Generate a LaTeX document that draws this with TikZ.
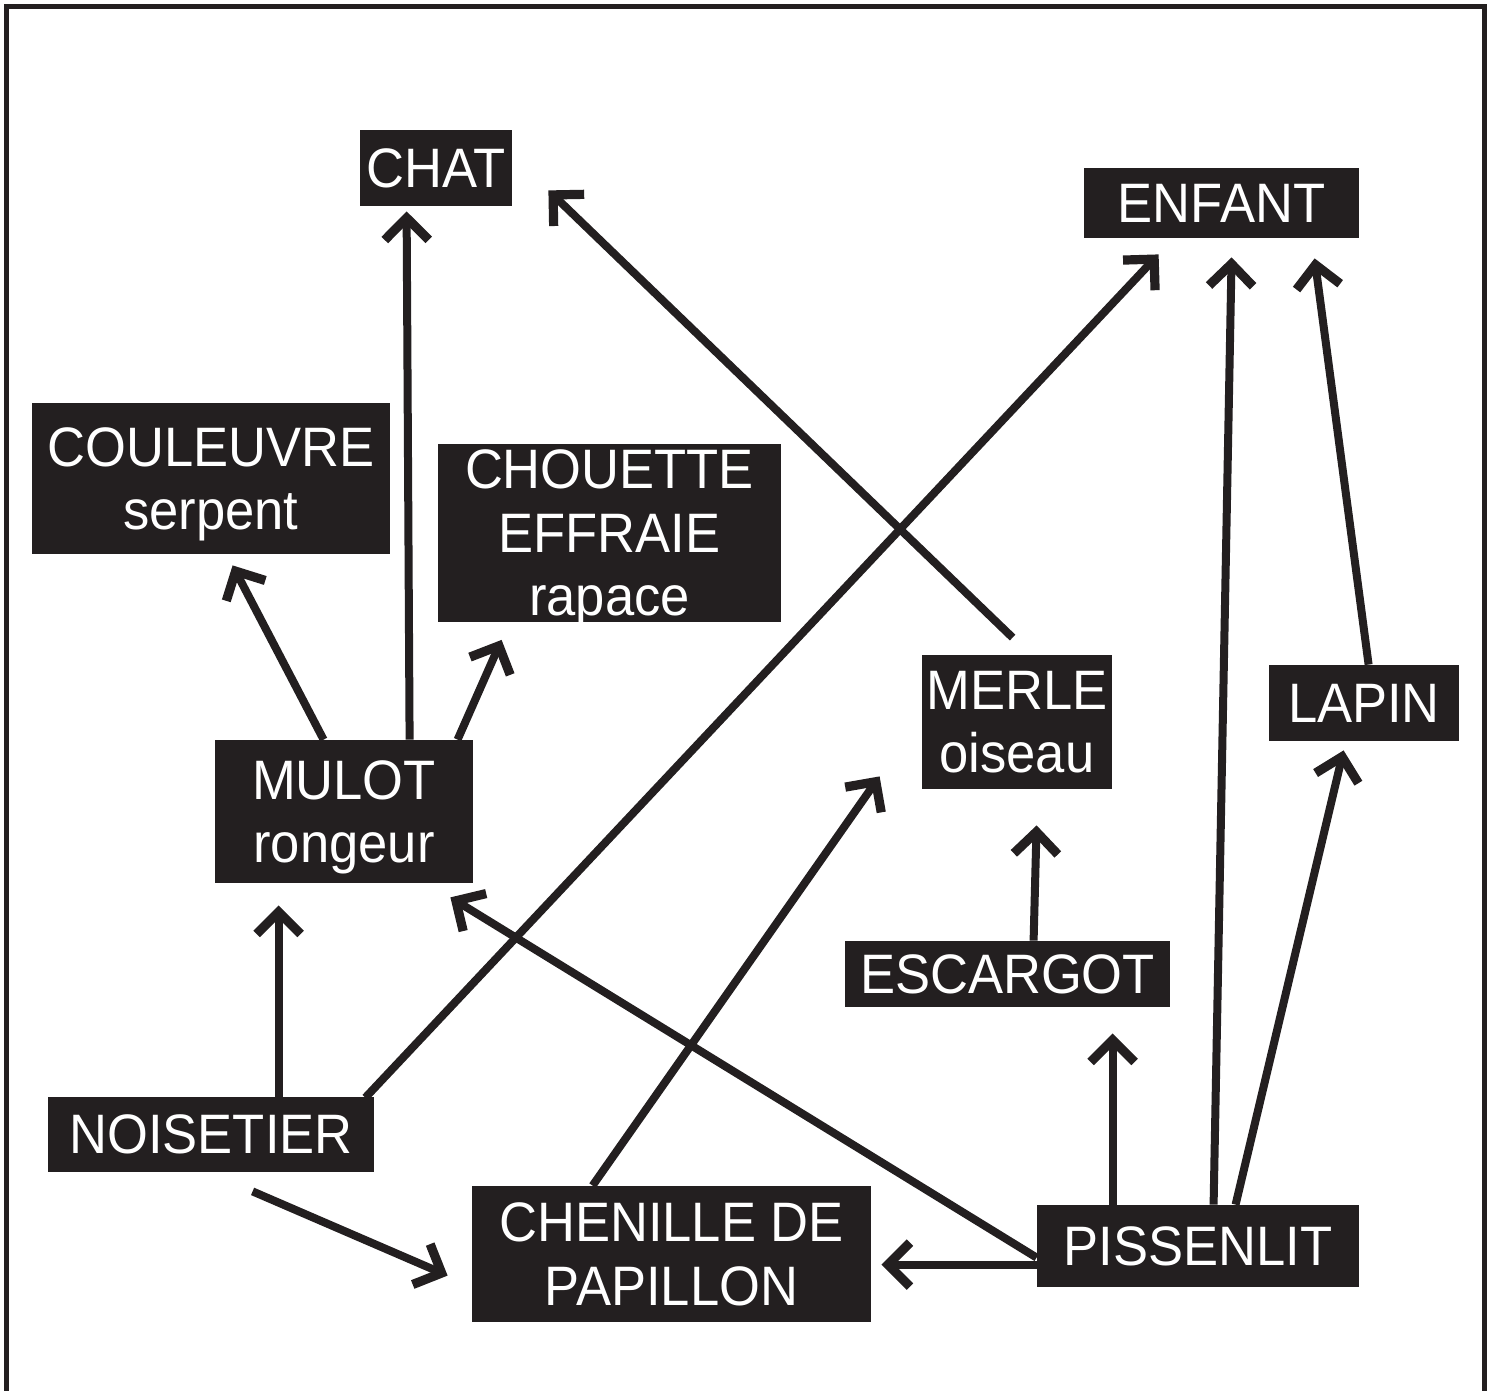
\documentclass[tikz,border=0pt]{standalone}
\usepackage{fontspec}
\setmainfont{Liberation Sans}[FakeStretch=0.945]
\usetikzlibrary{arrows.meta,calc}
\definecolor{ink}{HTML}{231F20}
\begin{document}
\begin{tikzpicture}[x=0.5pt,y=-0.5pt,
  box/.style={fill=ink, text=white, inner sep=0pt, align=center, text depth=0pt,
    font=\fontsize{27.8pt}{31.75pt}\selectfont},
  arr/.style={draw=ink, line width=4pt, -{Straight Barb[sharp,length=11pt,width=22pt,line width=4.6pt]}}]
\useasboundingbox (0,0) rectangle (1496,1391);
\draw[ink, line width=2.5pt] (6.5,1391) -- (6.5,6.5) -- (1484,6.5) -- (1484,1391);

\node[box, minimum width=76pt, minimum height=38pt] (chat) at (436,168) {CHAT};
\node[box, minimum width=137.5pt, minimum height=35pt] (enfant) at (1221.5,203) {ENFANT};
\node[box, minimum width=179pt, minimum height=75.5pt] (couleuvre) at (211,478.5) {COULEUVRE\\serpent};
\node[box, minimum width=171.5pt, minimum height=88.5pt] (chouette) at (609.5,533) {CHOUETTE\\EFFRAIE\\rapace};
\node[box, minimum width=95pt, minimum height=67pt] (merle) at (1017,722) {MERLE\\oiseau};
\node[box, minimum width=95pt, minimum height=38pt] (lapin) at (1364,703) {LAPIN};
\node[box, minimum width=129pt, minimum height=71.5pt] (mulot) at (344,811.5) {MULOT\\rongeur};
\node[box, minimum width=162.5pt, minimum height=33pt] (escargot) at (1007.5,974) {ESCARGOT};
\node[box, minimum width=163pt, minimum height=37.5pt] (noisetier) at (211,1134.5) {NOISETIER};
\node[box, minimum width=199.5pt, minimum height=68pt] (chenille) at (671.5,1254) {CHENILLE DE\\PAPILLON};
\node[box, minimum width=161pt, minimum height=41pt] (pissenlit) at (1198,1246) {PISSENLIT};

\draw[arr] ($(mulot.north west)+(195,0)$) -- ($(chat.south west)+(47,5)$);
\draw[arr] ($(merle.north west)+(91,-17)$) -- ($(chat.south east)+(36,-16)$);
\draw[arr] ($(noisetier.north east)+(-9,1)$) -- ($(enfant.south west)+(75,16)$);
\draw[arr] ($(pissenlit.north west)+(177,0)$) -- ($(enfant.south west)+(148,19)$);
\draw[arr] ($(lapin.north west)+(100,0)$) -- ($(enfant.south west)+(231,20)$);
\draw[arr] ($(mulot.north west)+(109,0)$) -- ($(couleuvre.south west)+(201,11)$);
\draw[arr] ($(mulot.north west)+(243,0)$) -- ($(chouette.south west)+(64,18)$);
\draw[arr] ($(chenille.north west)+(121,0)$) -- ($(merle.south west)+(-42,-13)$);
\draw[arr] ($(escargot.north west)+(189,0)$) -- ($(merle.south west)+(115,36)$);
\draw[arr] ($(pissenlit.north west)+(199,0)$) -- ($(lapin.south west)+(75,9)$);
\draw[arr] ($(noisetier.north west)+(231,0)$) -- ($(mulot.south west)+(64,22)$);
\draw[arr] ($(pissenlit.north west)+(0,53)$) -- ($(mulot.south east)+(-23,14)$);
\draw[arr] ($(pissenlit.north west)+(76,0)$) -- ($(escargot.south west)+(268,26)$);
\draw[arr] ($(pissenlit.north west)+(0,60)$) -- ($(chenille.north east)+(10,79)$);
\draw[arr] ($(noisetier.south west)+(205,19)$) -- ($(chenille.north west)+(-24,90)$);
\end{tikzpicture}
\end{document}
